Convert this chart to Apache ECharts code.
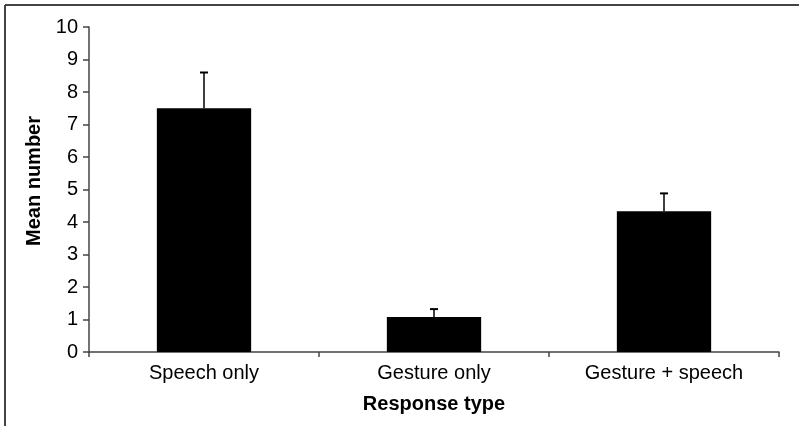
<!DOCTYPE html>
<html>
<head>
<meta charset="utf-8">
<script src="https://cdn.jsdelivr.net/npm/echarts@6/dist/echarts.min.js"></script>
<style>
html,body{margin:0;padding:0;background:#fff;}
#chart{width:799px;height:426px;}
</style>
</head>
<body>
<div id="chart"></div>
<script>
var categories = ['Speech only', 'Gesture only', 'Gesture + speech'];
var means = [7.5, 1.08, 4.33];
var errTops = [8.6, 1.32, 4.88];
var yTicks = [0, 1, 2, 3, 4, 5, 6, 7, 8, 9, 10];

var chart = echarts.init(document.getElementById('chart'));

var errData = [];
for (var i = 0; i < categories.length; i++) {
    errData.push([i, means[i], errTops[i]]);
}

var option = {
    animation: false,
    grid: { left: 89, right: 20, top: 27, bottom: 74 },
    xAxis: {
        type: 'category',
        data: categories,
        name: 'Response type',
        nameLocation: 'middle',
        nameGap: 42,
        nameTextStyle: { fontFamily: 'Liberation Sans', fontWeight: 'bold', fontSize: 20, color: '#000' },
        axisLine: { lineStyle: { color: '#444', width: 1.5 } },
        axisTick: { show: true, length: 5, lineStyle: { color: '#444', width: 1.5 } },
        axisLabel: { fontFamily: 'Liberation Sans', fontSize: 20, color: '#000', margin: 11 }
    },
    yAxis: {
        type: 'value',
        min: 0,
        max: 10,
        interval: 1,
        name: 'Mean number',
        nameLocation: 'middle',
        nameGap: 39,
        nameTextStyle: { fontFamily: 'Liberation Sans', fontWeight: 'bold', fontSize: 20, color: '#000', padding: [0, 0, 0, 17] },
        axisLine: { show: true, lineStyle: { color: '#444', width: 1.5 } },
        axisTick: { show: true, length: 6, lineStyle: { color: '#444', width: 1.5 } },
        splitLine: { show: false },
        axisLabel: {
            fontFamily: 'Liberation Sans', fontSize: 20, color: '#000', margin: 11,
            formatter: function (v) { return yTicks.indexOf(v) >= 0 ? String(v) : ''; }
        }
    },
    series: [
        {
            type: 'bar',
            data: means,
            barWidth: '41%',
            itemStyle: { color: '#000' }
        },
        {
            type: 'custom',
            data: errData,
            z: 3,
            renderItem: function (params, api) {
                var x = api.value(0);
                var base = api.coord([x, api.value(1)]);
                var top = api.coord([x, api.value(2)]);
                var cap = 4;
                return {
                    type: 'group',
                    children: [
                        { type: 'line', shape: { x1: base[0], y1: base[1], x2: top[0], y2: top[1] }, style: { stroke: '#000', lineWidth: 1.5 } },
                        { type: 'line', shape: { x1: top[0] - cap, y1: top[1], x2: top[0] + cap, y2: top[1] }, style: { stroke: '#000', lineWidth: 2 } }
                    ]
                };
            }
        }
    ],
    graphic: [
        { type: 'line', shape: { x1: 5, y1: 5, x2: 799, y2: 5 }, style: { stroke: '#444', lineWidth: 2 } },
        { type: 'line', shape: { x1: 5, y1: 5, x2: 5, y2: 426 }, style: { stroke: '#444', lineWidth: 2 } }
    ]
};

chart.setOption(option);
</script>
</body>
</html>
